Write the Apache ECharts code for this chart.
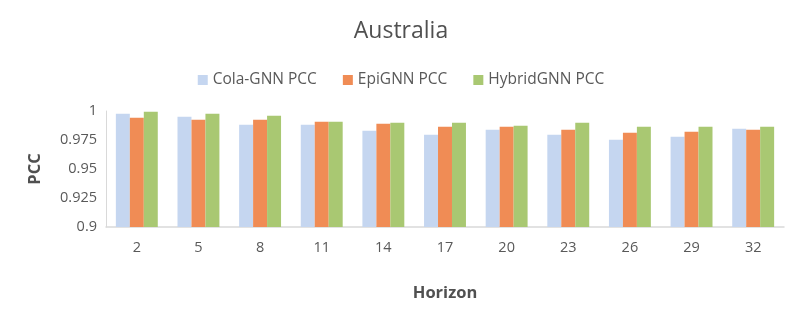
<!DOCTYPE html>
<html><head><meta charset="utf-8">
<script src="https://cdn.jsdelivr.net/npm/echarts@6/dist/echarts.min.js"></script>
<style>html,body{margin:0;padding:0;background:#fff}#c{width:802px;height:312px}</style>
</head><body><div id="c"></div>
<script>
const categories = ['2','5','8','11','14','17','20','23','26','29','32'];
const colaGNN = [0.9977,0.9951,0.9882,0.9882,0.9830,0.9795,0.9839,0.9795,0.9752,0.9778,0.9847];
const epiGNN = [0.9942,0.9925,0.9925,0.9908,0.9890,0.9865,0.9865,0.9839,0.9813,0.9821,0.9839];
const hybridGNN = [0.9994,0.9977,0.9960,0.9908,0.9899,0.9899,0.9873,0.9899,0.9865,0.9865,0.9865];
const seriesNames = ['Cola-GNN PCC','EpiGNN PCC','HybridGNN PCC'];
const colors = ['#C5D6F0','#F08C55','#A9C872'];
const font = '"Open Sans", "Noto Sans", sans-serif';
const chart = echarts.init(document.getElementById('c'));
chart.setOption({
  animation:false,
  title:{text:'Australia',left:'center',top:15,textStyle:{fontFamily:font,fontSize:23,fontWeight:'normal',color:'#505050'}},
  legend:{top:67,left:'center',itemWidth:10,itemHeight:10,itemGap:26,icon:'rect',
    textStyle:{fontFamily:font,fontSize:15.5,color:'#595959'},data:seriesNames},
  grid:{left:106,right:18,top:111,bottom:85},
  xAxis:{type:'category',data:categories,name:'Horizon',nameLocation:'middle',nameGap:58,
    nameTextStyle:{fontFamily:font,fontSize:16.5,fontWeight:'bold',color:'#505050'},
    axisLine:{lineStyle:{color:'#D9D9D9',width:1.5}},axisTick:{show:false},
    axisLabel:{fontFamily:font,fontSize:14.5,color:'#595959',margin:13}},
  yAxis:{type:'value',min:0.9,max:1,interval:0.025,name:'PCC',nameLocation:'middle',nameGap:62,
    nameTextStyle:{fontFamily:font,fontSize:16.5,fontWeight:'bold',color:'#505050'},
    axisLine:{show:true,lineStyle:{color:'#D9D9D9'}},axisTick:{show:false},splitLine:{show:false},
    axisLabel:{fontFamily:font,fontSize:14.5,color:'#595959',margin:9}},
  series:[
    {name:seriesNames[0],type:'bar',data:colaGNN,itemStyle:{color:colors[0]},barGap:'0%',barCategoryGap:'32%'},
    {name:seriesNames[1],type:'bar',data:epiGNN,itemStyle:{color:colors[1]},barGap:'0%',barCategoryGap:'32%'},
    {name:seriesNames[2],type:'bar',data:hybridGNN,itemStyle:{color:colors[2]},barGap:'0%',barCategoryGap:'32%'}
  ]
});
</script></body></html>
